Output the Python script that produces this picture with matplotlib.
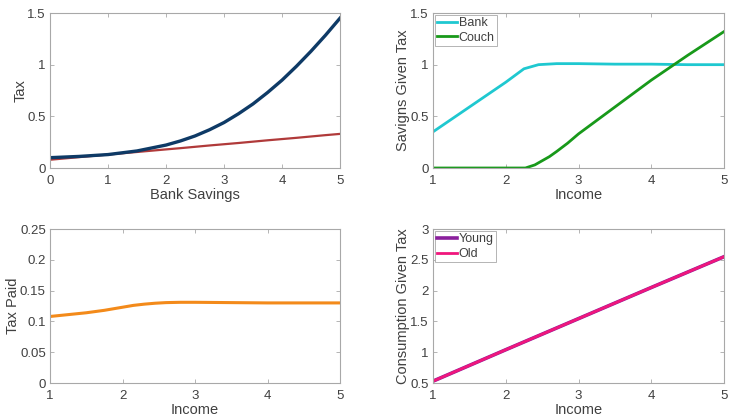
import matplotlib
matplotlib.use("Agg")
import matplotlib.pyplot as plt

# ── Data ──────────────────────────────────────────────────────────────────
savings = [0, 0.5, 1, 1.5, 2, 2.25, 2.5, 2.75, 3, 3.25, 3.5, 3.75, 4, 4.25, 4.5, 4.75, 5]
tax_convex = [0.10, 0.112, 0.13, 0.165, 0.222, 0.262, 0.31, 0.37, 0.44, 0.525, 0.62,
              0.73, 0.85, 0.985, 1.13, 1.285, 1.45]
tax_linear = [0.08, 0.105, 0.13, 0.155, 0.18, 0.192, 0.205, 0.218, 0.23, 0.242, 0.255,
              0.268, 0.28, 0.292, 0.305, 0.318, 0.33]

income_bank = [1, 1.5, 2, 2.25, 2.35, 2.45, 2.7, 3, 3.5, 4, 4.5, 5]
bank = [0.35, 0.59, 0.83, 0.96, 0.98, 1.0, 1.01, 1.01, 1.005, 1.005, 1.0, 1.0]
income_couch = [1, 1.5, 2, 2.27, 2.4, 2.5, 2.6, 2.7, 2.85, 3, 3.5, 4, 4.5, 5]
couch = [0, 0, 0, 0, 0.03, 0.07, 0.11, 0.16, 0.24, 0.33, 0.59, 0.85, 1.09, 1.32]

income_tax = [1, 1.25, 1.5, 1.75, 2, 2.15, 2.3, 2.45, 2.6, 2.8, 3, 3.5, 4, 4.5, 5]
tax_paid = [0.108, 0.111, 0.114, 0.118, 0.123, 0.126, 0.128, 0.1295, 0.1305, 0.131,
            0.131, 0.1305, 0.130, 0.130, 0.130]

income_cons = [1, 2, 3, 4, 5]
cons_young = [0.53, 1.04, 1.545, 2.05, 2.55]
cons_old = [0.53, 1.04, 1.545, 2.05, 2.55]

# ── Style ─────────────────────────────────────────────────────────────────
TEXT = "#404040"
SPINE = "#a8a8a8"
plt.rcParams["font.family"] = ["Liberation Sans", "DejaVu Sans"]

fig = plt.figure(figsize=(7.29, 4.19), dpi=100)
W, H = 729, 419


def make_ax(x0, x1, y0, y1):
    return fig.add_axes([x0 / W, 1 - y1 / H, (x1 - x0) / W, (y1 - y0) / H])


def style(ax, xlim, ylim, xticks, yticks, ytl, xlabel, ylabel):
    ax.set_xlim(*xlim)
    ax.set_ylim(*ylim)
    ax.set_xticks(xticks)
    ax.set_xticklabels([str(t) for t in xticks])
    ax.set_yticks(yticks)
    ax.set_yticklabels(ytl)
    for s in ax.spines.values():
        s.set_color(SPINE)
        s.set_linewidth(0.8)
    ax.tick_params(direction="in", length=3, width=0.6, color=SPINE,
                   labelsize=9.5, labelcolor=TEXT, top=True, right=True, pad=3)
    ax.tick_params(axis="x", pad=5)
    ax.set_xlabel(xlabel, fontsize=10.5, color=TEXT, labelpad=1)
    ax.set_ylabel(ylabel, fontsize=10.5, color=TEXT, labelpad=0)


def legend(ax):
    leg = ax.legend(loc="upper left", fontsize=9, handlelength=1.6, handletextpad=0.1,
                    borderpad=0.2, borderaxespad=0.15, labelspacing=0.2,
                    fancybox=False, framealpha=1, edgecolor=SPINE)
    leg.get_frame().set_linewidth(0.6)
    for t in leg.get_texts():
        t.set_color(TEXT)


# Top-left
ax1 = make_ax(50, 340, 13, 168)
ax1.plot(savings, tax_linear, color="#b03a3a", lw=1.6)
ax1.plot(savings, tax_convex, color="#0e3a66", lw=2.4)
style(ax1, (0, 5), (0, 1.5), [0, 1, 2, 3, 4, 5], [0, 0.5, 1, 1.5],
      ["0", "0.5", "1", "1.5"], "Bank Savings", "Tax")

# Top-right
ax2 = make_ax(433, 724, 13, 168)
ax2.plot(income_bank, bank, color="#1fc8d0", lw=2.0, label="Bank")
ax2.plot(income_couch, couch, color="#18991a", lw=2.0, label="Couch")
style(ax2, (1, 5), (0, 1.5), [1, 2, 3, 4, 5], [0, 0.5, 1, 1.5],
      ["0", "0.5", "1", "1.5"], "Income", "Savigns Given Tax")
legend(ax2)

# Bottom-left
ax3 = make_ax(50, 340, 229, 383)
ax3.plot(income_tax, tax_paid, color="#f38a1a", lw=2.2)
style(ax3, (1, 5), (0, 0.25), [1, 2, 3, 4, 5],
      [0, 0.05, 0.1, 0.15, 0.2, 0.25],
      ["0", "0.05", "0.1", "0.15", "0.2", "0.25"], "Income", "Tax Paid")

# Bottom-right
ax4 = make_ax(433, 724, 229, 383)
ax4.plot(income_cons, cons_young, color="#8a1f9c", lw=2.6, label="Young")
ax4.plot(income_cons, cons_old, color="#f0167c", lw=2.0, label="Old")
style(ax4, (1, 5), (0.5, 3), [1, 2, 3, 4, 5],
      [0.5, 1, 1.5, 2, 2.5, 3],
      ["0.5", "1", "1.5", "2", "2.5", "3"], "Income", "Consumption Given Tax")
legend(ax4)

fig.savefig("out.png", dpi=100, facecolor="white")
